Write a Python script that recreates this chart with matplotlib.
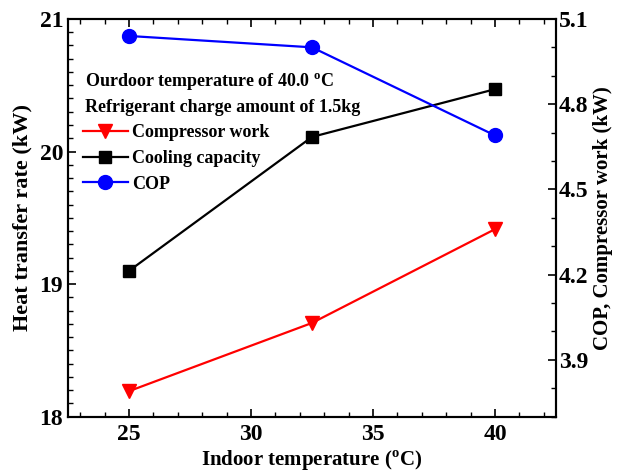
import numpy as np
import matplotlib
matplotlib.use("Agg")
import matplotlib.pyplot as plt
from matplotlib.ticker import MultipleLocator, FormatStrFormatter

# data
indoor_temp = [25, 32.5, 40]
cooling_capacity = [19.10, 20.11, 20.47]   # kW, left axis
compressor_work = [3.79, 4.03, 4.36]       # kW, right axis
cop = [5.04, 5.00, 4.69]                   # right axis

plt.rcParams['font.family'] = ['Liberation Serif', 'DejaVu Serif']
plt.rcParams['font.weight'] = 'bold'
plt.rcParams['mathtext.fontset'] = 'custom'
plt.rcParams['mathtext.rm'] = 'Liberation Serif:bold'

fig = plt.figure(figsize=(6.24, 4.73), dpi=100)
ax = fig.add_axes([0.109, 0.119, 0.782, 0.841])
ax2 = ax.twinx()

ax.plot(indoor_temp, cooling_capacity, color='black', lw=1.6, marker='s',
        ms=8, label='Cooling capacity')
ax2.plot(indoor_temp, compressor_work, color='#ff0000', lw=1.6, marker='v',
         ms=10, label='Compressor work')
ax2.plot(indoor_temp, cop, color='#0000ff', lw=1.6, marker='o',
         ms=10, label='COP')

ax.set_xlim(22.5, 42.5)
ax.set_ylim(18, 21)
ax2.set_ylim(3.7, 5.1)

ax.xaxis.set_major_locator(MultipleLocator(5))
ax.xaxis.set_minor_locator(MultipleLocator(1))
ax.yaxis.set_major_locator(MultipleLocator(1))
ax.yaxis.set_minor_locator(MultipleLocator(0.1))
ax2.yaxis.set_major_locator(MultipleLocator(0.3))
ax2.yaxis.set_minor_locator(MultipleLocator(0.1))
ax2.yaxis.set_major_formatter(FormatStrFormatter('%.1f'))

ax.tick_params(axis='both', which='both', direction='in', labelsize=17,
               top=True, right=False)
ax.tick_params(which='major', length=6, width=1.2)
ax.tick_params(which='minor', length=3.5, width=1)
ax.tick_params(axis='x', pad=5)
ax2.tick_params(axis='y', which='both', direction='in', labelsize=17)
ax2.tick_params(which='major', length=6, width=1.2, pad=2)
ax2.tick_params(which='minor', length=3.5, width=1)

for a in (ax, ax2):
    for s in a.spines.values():
        s.set_linewidth(1.5)

ax.set_xlabel(r'Indoor temperature ($^{\mathrm{o}}$C)', fontsize=15,
              fontweight='bold', labelpad=3)
ax.set_ylabel('Heat transfer rate (kW)', fontsize=16, fontweight='bold',
              labelpad=5)
ax2.set_ylabel('COP, Compressor work (kW)', fontsize=15, fontweight='bold',
               labelpad=3)

ax.text(0.035, 0.840, r'Ourdoor temperature of 40.0 $^{\mathrm{o}}$C',
        transform=ax.transAxes, fontsize=13, fontweight='bold', va='center')
ax.text(0.035, 0.777, 'Refrigerant charge amount of 1.5kg',
        transform=ax.transAxes, fontsize=13, fontweight='bold', va='center')

h1, l1 = ax.get_legend_handles_labels()
h2, l2 = ax2.get_legend_handles_labels()
handles = [h2[0], h1[0], h2[1]]
labels = [l2[0], l1[0], l2[1]]
ax2.legend(handles, labels, loc='upper left', bbox_to_anchor=(0.03, 0.735),
           frameon=False, fontsize=13, handlelength=2.5, handletextpad=0.25,
           labelspacing=0.48, borderaxespad=0, borderpad=0)

fig.savefig('out.png', dpi=100)
